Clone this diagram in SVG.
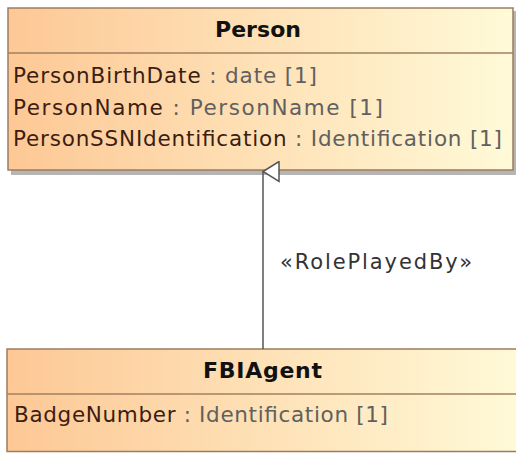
<svg xmlns="http://www.w3.org/2000/svg" width="516" height="453" viewBox="0 0 516 453">
  <defs>
    <linearGradient id="fill" x1="0" y1="0" x2="1" y2="0">
      <stop offset="0" stop-color="#FDC895"/>
      <stop offset="1" stop-color="#FFFAD8"/>
    </linearGradient>
    <marker id="gen" viewBox="0 0 22 18" refX="11" refY="1" markerWidth="22" markerHeight="18" markerUnits="userSpaceOnUse" orient="auto-start-reverse">
      <path d="M11 1 L21 17 L1 17 Z" fill="#fff" stroke="#555" stroke-width="1.5"/>
    </marker>
  </defs>
  <style>
    .box { fill: url(#fill); stroke: #9C7C5E; stroke-width: 1.5; }
    .sep { stroke: #A0805F; stroke-width: 1.5; }
    .shadow { fill: #B5B5B5; }
    .title { font-family: "DejaVu Sans", Verdana, sans-serif; font-weight: bold; font-size: 22px; fill: #111; }
    .attr { font-family: "DejaVu Sans", Verdana, sans-serif; font-size: 21.5px; fill: #3B1D12; }
    .type { fill: #606060; }
    .label { font-family: "DejaVu Sans", Verdana, sans-serif; font-size: 21px; fill: #333; }
    .conn { stroke: #555; stroke-width: 1.5; fill: none; }
  </style>
  <rect width="516" height="453" fill="#fff"/>
  <g id="Person">
    <rect class="shadow" x="11" y="11" width="505" height="164"/>
    <rect class="box" x="8" y="8" width="505" height="162"/>
    <line class="sep" x1="8" y1="53" x2="513" y2="53"/>
    <text class="title" x="215" y="37" textLength="86" lengthAdjust="spacing">Person</text>
    <text class="attr" x="13" y="83" textLength="304" lengthAdjust="spacing">PersonBirthDate<tspan class="type"> : date [1]</tspan></text>
    <text class="attr" x="13" y="114.5" textLength="370" lengthAdjust="spacing">PersonName<tspan class="type"> : PersonName [1]</tspan></text>
    <text class="attr" x="13" y="146" textLength="489" lengthAdjust="spacing">PersonSSNIdentification<tspan class="type"> : Identification [1]</tspan></text>
  </g>
  <g id="FBIAgent">
    <rect class="box" x="7" y="349" width="515" height="102.5"/>
    <line class="sep" x1="7" y1="394" x2="522" y2="394"/>
    <text class="title" x="203" y="377.5" textLength="119" lengthAdjust="spacing">FBIAgent</text>
    <text class="attr" x="14" y="422" textLength="374" lengthAdjust="spacing">BadgeNumber<tspan class="type"> : Identification [1]</tspan></text>
  </g>
  <g id="connectors">
    <line class="conn" x1="263" y1="349" x2="263" y2="171.5" marker-end="url(#gen)"/>
    <text class="label" x="280" y="269" textLength="192" lengthAdjust="spacing">«RolePlayedBy»</text>
  </g>
</svg>
